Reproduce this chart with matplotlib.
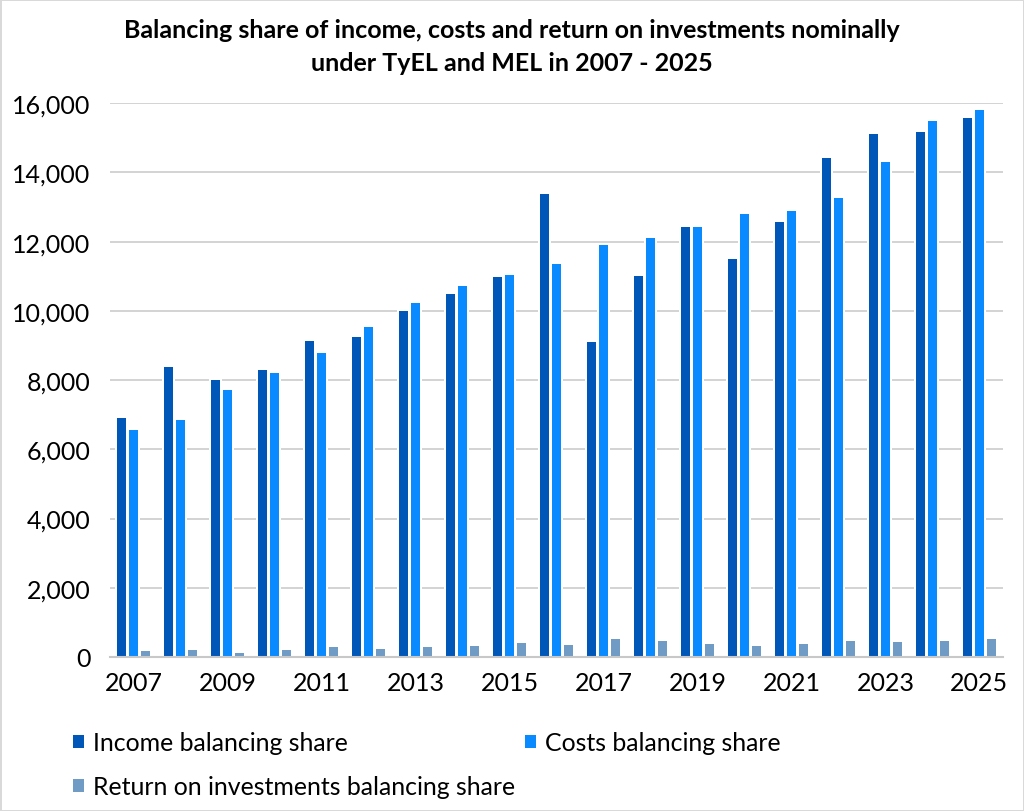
import numpy as np
import matplotlib.pyplot as plt
from matplotlib.patches import Patch

plt.rcParams['font.family'] = ['Lato', 'DejaVu Sans']

# Data (EUR million, nominal)
years = list(range(2007, 2026))
income = [6930, 8410, 8030, 8310, 9150, 9260, 10020, 10530, 11000, 13400,
          9120, 11050, 12450, 11540, 12600, 14440, 15140, 15190, 15590]
costs = [6590, 6870, 7750, 8230, 8820, 9570, 10260, 10750, 11070, 11370,
         11920, 12130, 12460, 12820, 12910, 13300, 14330, 15500, 15840]
returns = [190, 220, 140, 240, 310, 250, 320, 360, 440, 380,
           540, 480, 410, 350, 400, 480, 450, 500, 550]

series_names = ['Income balancing share', 'Costs balancing share',
                'Return on investments balancing share']
colors = ['#0057B8', '#0A8AFF', '#6F9BC5']

fig = plt.figure(figsize=(10.24, 8.12), dpi=100)
fig.patch.set_edgecolor('#D9D9D9')
fig.patch.set_linewidth(2)
ax = fig.add_axes([0.1074, 0.1897, 0.872, 0.682])

x = np.arange(len(years))
w = 0.223
offs = [-0.255, 0.0, 0.255]
for vals, off, col in zip([income, costs, returns], offs, colors):
    ax.bar(x + off, vals, width=w, color=col, edgecolor='white',
           linewidth=1.44, zorder=3)

ax.set_xlim(-0.5, len(years) - 0.5)
ax.set_ylim(0, 16000)
ax.set_yticks(np.arange(0, 16001, 2000))
ax.set_yticklabels([f'{v:,}' for v in range(0, 16001, 2000)])
ax.set_xticks(x[::2])
ax.set_xticklabels([str(y) for y in years[::2]])
ax.tick_params(axis='both', length=0, labelsize=18, colors='black')
ax.tick_params(axis='x', pad=10)
ax.tick_params(axis='y', pad=14)
ax.grid(axis='y', color='#D0D0D0', linewidth=1.3, zorder=0)
for s in ['top', 'right', 'left']:
    ax.spines[s].set_visible(False)
ax.spines['bottom'].set_color('#C8C8C8')
ax.spines['bottom'].set_linewidth(1.5)
ax.spines['bottom'].set_zorder(4)

fig.suptitle('Balancing share of income, costs and return on investments nominally\n'
             'under TyEL and MEL in 2007 - 2025',
             x=0.5, y=0.977, fontsize=18, fontweight='bold', linespacing=1.55)

# legend filled column-wise, so order the handles to read row by row
order = [0, 2, 1]
handles = [Patch(facecolor=colors[i], edgecolor='none') for i in order]
labels = [series_names[i] for i in order]
fig.legend(handles, labels, loc='upper left', ncol=2,
           bbox_to_anchor=(0.049, 0.126), frameon=False, fontsize=17.9,
           handlelength=0.45, handleheight=0.45, handletextpad=0.37,
           columnspacing=0.4, labelspacing=0.85)

fig.savefig('out.png', dpi=100, edgecolor=fig.get_edgecolor())
